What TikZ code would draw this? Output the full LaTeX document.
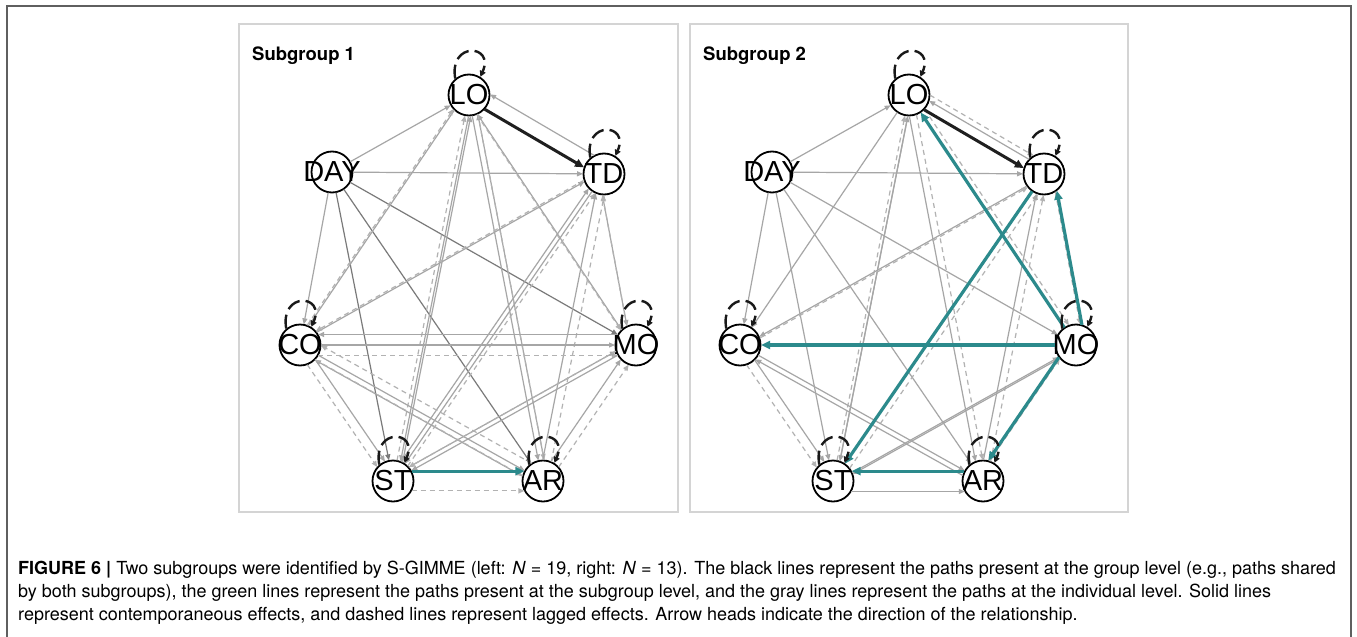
\documentclass[tikz,border=0pt]{standalone}
\usepackage{fontspec}
\setmainfont{TeX Gyre Heros}
\newfontfamily\labfont{Liberation Sans}
\usetikzlibrary{arrows.meta,calc}
\definecolor{teal2}{RGB}{44,138,140}
\definecolor{panelgray}{RGB}{212,212,212}
\definecolor{framegray}{RGB}{95,95,95}

% straight path between two variable nodes, shifted sideways by an angle on the rims
\newcommand\rr{21pt}
\newcommand\pth[4][0]{%
  \pgfmathsetmacro\eA{#1}\pgfmathsetmacro\eB{-(#1)}%
  \draw[#2] ($(#3)!\rr!\eA:(#4)$) -- ($(#4)!\rr!\eB:(#3)$);}
% lagged autoregressive loop on top of a node (y axis points down here)
\newcommand\sloop[1]{\draw[loopst] (#1.130) .. controls +(-100:38) and +(-66:36) .. (#1.58);}

\begin{document}
\begin{tikzpicture}[x=1pt,y=-1pt,
  vnode/.style={circle, draw=black, line width=1.8pt, minimum size=41pt, inner sep=0pt,
                font=\labfont\fontsize{29}{29}\selectfont},
  tip/.style={-{Triangle[length=6pt,width=5pt]}},
  gs/.style={tip, draw=black!35, line width=1.2pt},
  gk/.style={tip, draw=black!52, line width=1.2pt},
  gd/.style={tip, draw=black!30, line width=1.2pt, dash pattern=on 5pt off 4pt},
  bk/.style={-{Triangle[length=9pt,width=8pt]}, draw=black!88, line width=3pt},
  tl/.style={-{Triangle[length=9pt,width=8pt]}, draw=teal2, line width=3.2pt},
  loopst/.style={-{Triangle[length=6pt,width=6pt]}, draw=black!90, line width=2.4pt,
                 dash pattern=on 14pt off 6pt},
  paneltitle/.style={anchor=base west, inner sep=0pt, font=\bfseries\fontsize{18.5}{20}\selectfont},
  capstyle/.style={anchor=base west, inner sep=0pt, font=\fontsize{18}{22}\selectfont},
]
\useasboundingbox (0,0) rectangle (1357,637);
\fill[white] (0,0) rectangle (1357,637);

% outer figure frame
\draw[framegray, line width=1.5pt] (7,645) -- (7,6) -- (1351,6) -- (1351,645);

% panel frames
\draw[panelgray, line width=1.5pt] (239,24) rectangle (678,512);
\draw[panelgray, line width=1.5pt] (690,24) rectangle (1128,512);
\node[paneltitle] (t1) at (252,60) {Subgroup 1};
\node[paneltitle] (t2) at (703,60) {Subgroup 2};

% ---------------- Subgroup 1 ----------------
\node[vnode] (aL) at (469,95)  {\makebox[0pt]{LO}};
\node[vnode] (aT) at (604,174) {\makebox[0pt]{TD}};
\node[vnode] (aD) at (332,172) {\makebox[0pt]{DAY}};
\node[vnode] (aC) at (300,345) {\makebox[0pt]{CO}};
\node[vnode] (aM) at (636,345) {\makebox[0pt]{MO}};
\node[vnode] (aS) at (393,481) {\makebox[0pt]{ST}};
\node[vnode] (aA) at (543,481) {\makebox[0pt]{AR}};

\pth[-12]{bk}{aL}{aT}
\pth[-32]{gs}{aT}{aL}
\pth{gs}{aD}{aL}
\pth{gs}{aD}{aT}
\pth{gk}{aD}{aM}
\pth{gs}{aD}{aC}
\pth{gk}{aD}{aS}
\pth{gk}{aD}{aA}
\pth[-10]{gs}{aL}{aC}
\pth[14]{gd}{aC}{aL}
\pth[10]{gs}{aM}{aL}
\pth[-12]{gd}{aL}{aM}
\pth[-16]{gs}{aS}{aL}
\pth[10]{gs}{aL}{aS}
\pth{gd}{aS}{aL}
\pth[-14]{gs}{aA}{aL}
\pth[14]{gd}{aL}{aA}
\pth[-2]{gs}{aL}{aA}
\pth[8]{gs}{aC}{aT}
\pth[-12]{gd}{aT}{aC}
\pth[-15]{gs}{aT}{aM}
\pth[15]{gd}{aM}{aT}
\pth[12]{gs}{aS}{aT}
\pth[-10]{gd}{aS}{aT}
\pth{gs}{aT}{aS}
\pth[12]{gs}{aA}{aT}
\pth[-12]{gd}{aA}{aT}
\pth[-30]{gs}{aM}{aC}
\pth{gs}{aC}{aM}
\pth[-30]{gd}{aC}{aM}
\pth[12]{gs}{aC}{aS}
\pth[-14]{gd}{aC}{aS}
\pth[16]{gs}{aA}{aC}
\pth{gs}{aC}{aA}
\pth[-15]{gd}{aC}{aA}
\pth[-28]{gd}{aA}{aC}
\pth[12]{gs}{aS}{aM}
\pth{gs}{aM}{aS}
\pth[-12]{gd}{aM}{aS}
\pth[12]{gs}{aA}{aM}
\pth[-14]{gd}{aA}{aM}
\pth[28]{tl}{aS}{aA}
\pth[-28]{gd}{aS}{aA}

\foreach \n in {aL,aT,aC,aM,aS,aA} {\sloop{\n}}

% ---------------- Subgroup 2 ----------------
\node[vnode] (bL) at (909,95)  {\makebox[0pt]{LO}};
\node[vnode] (bT) at (1044,174) {\makebox[0pt]{TD}};
\node[vnode] (bD) at (772,172) {\makebox[0pt]{DAY}};
\node[vnode] (bC) at (740,345) {\makebox[0pt]{CO}};
\node[vnode] (bM) at (1076,345) {\makebox[0pt]{MO}};
\node[vnode] (bS) at (833,481) {\makebox[0pt]{ST}};
\node[vnode] (bA) at (983,481) {\makebox[0pt]{AR}};

\pth{gs}{bD}{bL}
\pth{gs}{bD}{bT}
\pth{gs}{bD}{bC}
\pth{gs}{bD}{bS}
\pth{gs}{bD}{bA}
\pth{gs}{bD}{bM}
\pth[-14]{gs}{bT}{bL}
\pth[30]{gd}{bL}{bT}
\pth{gs}{bL}{bC}
\pth[-8]{gs}{bS}{bL}
\pth[8]{gs}{bL}{bS}
\pth{gd}{bS}{bL}
\pth[-10]{gs}{bL}{bA}
\pth[10]{gd}{bL}{bA}
\pth[14]{gd}{bL}{bM}
\pth[6]{gs}{bT}{bC}
\pth[-10]{gd}{bC}{bT}
\pth[-18]{gd}{bS}{bT}
\pth[10]{gs}{bA}{bT}
\pth[-10]{gd}{bA}{bT}
\pth[22]{gd}{bT}{bM}
\pth[10]{gs}{bC}{bS}
\pth[-16]{gd}{bC}{bS}
\pth{gs}{bC}{bA}
\pth[14]{gs}{bA}{bC}
\pth[10]{gs}{bM}{bS}
\pth[-6]{gs}{bS}{bM}
\pth[16]{gd}{bA}{bM}
\pth[-30]{gs}{bS}{bA}
\pth[-14]{bk}{bL}{bT}
\pth{tl}{bM}{bL}
\pth{tl}{bT}{bS}
\pth[-27]{tl}{bM}{bT}
\pth{tl}{bM}{bC}
\pth[-20]{tl}{bM}{bA}
\pth[-28]{tl}{bA}{bS}

\foreach \n in {bL,bT,bC,bM,bS,bA} {\sloop{\n}}

% ---------------- caption ----------------
\node[capstyle] (c1) at (18,574) {\textbf{FIGURE 6 |} Two subgroups were identified by S-GIMME (left: \textit{N} = 19, right: \textit{N} = 13). The black lines represent the paths present at the group level (e.g., paths shared};
\node[capstyle] (c2) at (18,597) {by both subgroups), the green lines represent the paths present at the subgroup level, and the gray lines represent the paths at the individual level. Solid lines};
\node[capstyle] (c3) at (18,620) {represent contemporaneous effects, and dashed lines represent lagged effects. Arrow heads indicate the direction of the relationship.};
\end{tikzpicture}
\end{document}
